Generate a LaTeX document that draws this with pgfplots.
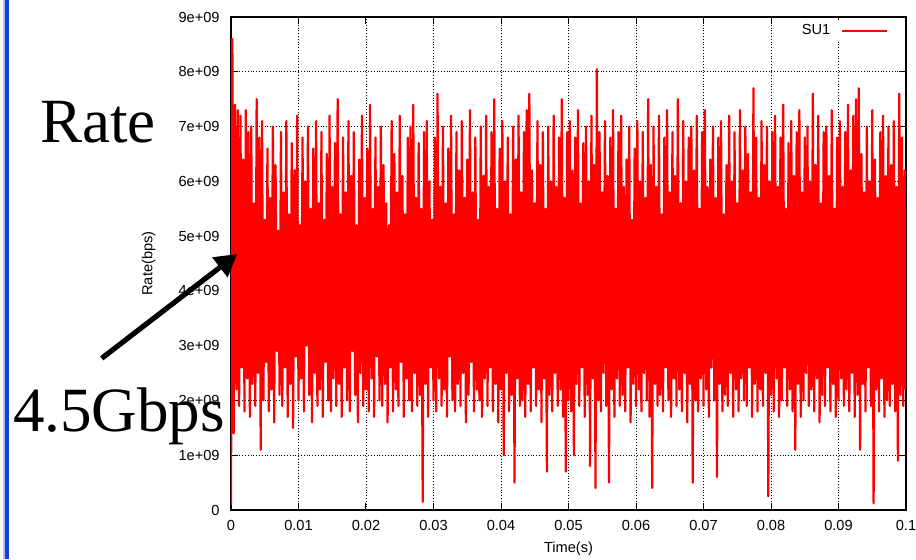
\documentclass[border=0pt]{standalone}
\usepackage{fontspec}
\setmainfont{Liberation Serif}
\newfontfamily\helv{Liberation Sans}
\usepackage{pgfplots}
\pgfplotsset{compat=1.18}
\usetikzlibrary{arrows.meta}
\definecolor{slideblue}{RGB}{16,64,224}
\definecolor{paleblue}{RGB}{170,190,240}
\begin{document}
\begin{tikzpicture}
\path[use as bounding box] (-115.5pt,-24.5pt) rectangle (342.5pt,255pt);
\fill[paleblue] (-114pt,-24.5pt) rectangle (-113pt,255pt);
\fill[slideblue] (-113pt,-24.5pt) rectangle (-111pt,255pt);
\begin{axis}[
  at={(0,0)}, anchor=south west,
  scale only axis, width=337.5pt, height=246.5pt,
  xmin=0, xmax=1000, ymin=0, ymax=9,
  xtick={0,100,...,1000},
  xticklabels={0,0.01,0.02,0.03,0.04,0.05,0.06,0.07,0.08,0.09,0.1},
  ytick={0,1,...,9},
  yticklabels={0,1e+09,2e+09,3e+09,4e+09,5e+09,6e+09,7e+09,8e+09,9e+09},
  tick align=inside, tick pos=both,
  major tick length=3.5pt,
  tick style={black, line width=0.5pt},
  axis line style={black, line width=0.7pt},
  grid=major, major grid style={black, densely dotted, line width=0.4pt},
  tick label style={font=\helv\fontsize{7.3}{8}\selectfont, inner sep=0pt},
  xticklabel shift=4.75pt, yticklabel shift=5.5pt,
  label style={font=\helv\fontsize{7.3}{8}\selectfont, inner sep=0pt},
  xlabel={Time(s)}, ylabel={Rate(bps)},
  xlabel style={at={(axis description cs:0.5,-0.0872)}, anchor=base},
  ylabel style={at={(axis description cs:-0.1222,0.5)}, anchor=center},
  legend plot pos=right,
  legend style={draw=none, fill=white, inner xsep=1pt, inner ysep=2pt, column sep=5.5pt,
    at={(axis description cs:0.976,0.9716)}, anchor=east,
    font=\helv\fontsize{7.3}{8}\selectfont, nodes={inner sep=0pt}},
  legend image code/.code={\draw[draw=red, color=red, line width=0.6pt] (0pt,0pt) -- (22.5pt,0pt);},
]
\addplot[color=red, line width=1.1pt, line join=round] coordinates {
(0,0.1)(2,8.6)(4,1.4)(6,7.4)(8,2.2)(10,7.3)(12,1.9)(14,7.2)(16,2.6)(18,6.4)
(20,1.8)(22,7.3)(24,2.4)(26,6.9)(28,1.7)(30,7.0)(32,2.3)(34,5.6)(36,1.9)(38,7.5)
(40,2.5)(42,6.8)(44,1.1)(46,7.1)(48,2.0)(50,5.3)(52,2.7)(54,6.6)(56,1.8)(58,5.7)
(60,2.2)(62,7.0)(64,1.6)(66,6.3)(68,2.9)(70,5.1)(72,2.1)(74,6.9)(76,1.9)(78,5.8)
(80,2.6)(82,7.1)(84,1.7)(86,5.4)(88,2.3)(90,6.7)(92,1.5)(94,6.2)(96,2.8)(98,7.2)
(100,2.0)(102,5.2)(104,2.4)(106,6.8)(108,1.8)(110,6.0)(112,3.0)(114,7.0)(116,2.1)(118,5.5)
(120,1.6)(122,6.6)(124,2.5)(126,7.1)(128,1.9)(130,5.6)(132,2.2)(134,6.9)(136,1.7)(138,5.3)
(140,2.7)(142,6.5)(144,2.0)(146,7.2)(148,1.8)(150,5.9)(152,2.4)(154,6.7)(156,1.9)(158,7.5)
(160,2.3)(162,5.4)(164,1.7)(166,6.8)(168,2.6)(170,5.8)(172,2.0)(174,7.1)(176,1.8)(178,6.1)
(180,2.9)(182,6.9)(184,2.1)(186,5.2)(188,1.6)(190,6.4)(192,2.5)(194,7.2)(196,1.9)(198,5.7)
(200,2.2)(202,6.6)(204,1.8)(206,7.4)(208,2.4)(210,5.5)(212,1.7)(214,6.8)(216,2.8)(218,5.9)
(220,2.0)(222,7.0)(224,1.9)(226,6.3)(228,2.3)(230,5.6)(232,1.6)(234,5.2)(236,2.6)(238,7.1)
(240,1.8)(242,6.5)(244,2.2)(246,5.8)(248,1.9)(250,7.2)(252,2.7)(254,6.1)(256,1.7)(258,5.4)
(260,2.4)(262,6.8)(264,2.0)(266,7.0)(268,1.8)(270,7.4)(272,2.5)(274,5.7)(276,1.9)(278,6.7)
(280,2.1)(282,5.5)(284,0.15)(286,6.9)(288,2.3)(290,7.1)(292,1.7)(294,6.0)(296,2.6)(298,5.3)
(300,2.0)(302,6.8)(304,1.8)(306,7.6)(308,2.4)(310,5.9)(312,1.9)(314,7.0)(316,2.2)(318,5.6)
(320,1.7)(322,6.6)(324,2.8)(326,7.2)(328,2.0)(330,5.4)(332,1.8)(334,6.9)(336,2.3)(338,6.2)
(340,1.9)(342,7.1)(344,2.5)(346,5.7)(348,1.6)(350,6.4)(352,2.1)(354,7.3)(356,2.7)(358,5.8)
(360,1.8)(362,6.8)(364,2.2)(366,5.3)(368,2.0)(370,7.0)(372,1.7)(374,6.1)(376,2.4)(378,7.2)
(380,1.9)(382,5.9)(384,2.6)(386,6.9)(388,1.8)(390,7.5)(392,2.3)(394,5.5)(396,1.6)(398,6.6)
(400,2.2)(402,7.1)(404,1.0)(406,6.0)(408,2.5)(410,6.8)(412,1.8)(414,5.4)(416,2.1)(418,7.0)
(420,0.5)(422,6.4)(424,2.4)(426,7.2)(428,1.9)(430,5.8)(432,2.0)(434,6.9)(436,1.7)(438,7.3)
(440,2.3)(442,7.6)(444,1.8)(446,6.2)(448,2.6)(450,5.6)(452,1.9)(454,7.1)(456,2.2)(458,6.3)
(460,1.6)(462,6.9)(464,2.4)(466,5.5)(468,0.7)(470,7.0)(472,2.1)(474,6.0)(476,1.8)(478,7.2)
(480,2.5)(482,5.9)(484,1.9)(486,6.8)(488,2.2)(490,7.5)(492,1.7)(494,5.7)(496,0.7)(498,6.9)
(500,2.0)(502,7.1)(504,1.8)(506,6.2)(508,1.0)(510,6.8)(512,2.3)(514,7.3)(516,1.9)(518,5.6)
(520,2.6)(522,6.7)(524,1.7)(526,7.0)(528,2.1)(530,6.0)(532,0.8)(534,7.2)(536,2.4)(538,6.3)
(540,0.4)(542,8.05)(544,2.0)(546,6.9)(548,1.8)(550,5.8)(552,2.5)(554,7.1)(556,1.9)(558,6.1)
(560,0.5)(562,6.8)(564,2.2)(566,7.3)(568,1.7)(570,5.5)(572,2.4)(574,6.9)(576,1.9)(578,7.2)
(580,2.1)(582,5.9)(584,1.8)(586,6.4)(588,2.6)(590,7.0)(592,1.6)(594,5.3)(596,2.3)(598,6.6)
(600,1.9)(602,7.1)(604,2.2)(606,6.0)(608,1.8)(610,6.9)(612,2.5)(614,5.7)(616,2.0)(618,7.5)
(620,1.7)(622,6.3)(624,0.4)(626,7.0)(628,2.3)(630,5.9)(632,1.9)(634,7.2)(636,2.1)(638,5.4)
(640,1.8)(642,6.8)(644,2.6)(646,7.3)(648,2.0)(650,5.8)(652,1.7)(654,6.9)(656,2.4)(658,6.1)
(660,1.9)(662,7.5)(664,2.2)(666,5.6)(668,1.8)(670,7.1)(672,2.5)(674,6.0)(676,1.6)(678,6.8)
(680,2.3)(682,7.0)(684,0.5)(686,6.2)(688,2.0)(690,7.2)(692,1.8)(694,5.5)(696,2.4)(698,6.9)
(700,1.9)(702,7.3)(704,2.2)(706,5.9)(708,1.7)(710,6.4)(712,2.6)(714,7.0)(716,2.0)(718,5.7)
(720,0.6)(722,6.8)(724,2.3)(726,7.1)(728,1.8)(730,5.4)(732,2.1)(734,6.3)(736,1.9)(738,7.2)
(740,2.5)(742,6.0)(744,1.7)(746,6.9)(748,2.2)(750,5.6)(752,1.8)(754,7.3)(756,2.4)(758,6.2)
(760,2.0)(762,7.0)(764,1.9)(766,6.5)(768,2.6)(770,5.8)(772,1.7)(774,7.7)(776,2.3)(778,6.8)
(780,1.8)(782,5.7)(784,2.2)(786,7.1)(788,1.9)(790,6.3)(792,2.5)(794,7.0)(796,0.25)(798,6.0)
(800,2.1)(802,6.9)(804,1.8)(806,7.2)(808,2.4)(810,5.9)(812,1.7)(814,6.8)(816,2.0)(818,7.4)
(820,2.6)(822,5.5)(824,1.9)(826,6.7)(828,2.2)(830,7.1)(832,1.8)(834,6.1)(836,1.1)(838,6.9)
(840,2.3)(842,7.3)(844,1.7)(846,5.8)(848,2.0)(850,6.8)(852,2.5)(854,7.0)(856,1.9)(858,6.0)
(860,2.2)(862,7.6)(864,1.8)(866,6.3)(868,2.4)(870,7.2)(872,1.6)(874,5.6)(876,2.1)(878,6.9)
(880,1.9)(882,7.0)(884,2.6)(886,6.1)(888,1.8)(890,7.3)(892,2.3)(894,5.5)(896,1.7)(898,6.8)
(900,2.0)(902,7.1)(904,2.4)(906,5.9)(908,1.9)(910,6.9)(912,2.2)(914,7.4)(916,1.8)(918,6.2)
(920,2.5)(922,7.2)(924,1.7)(926,7.5)(928,2.1)(930,7.7)(932,1.1)(934,6.5)(936,2.3)(938,5.8)
(940,1.8)(942,7.0)(944,2.6)(946,6.0)(948,1.9)(950,7.3)(952,0.12)(954,6.4)(956,2.2)(958,5.7)
(960,1.8)(962,6.9)(964,2.4)(966,7.2)(968,1.7)(970,6.1)(972,2.0)(974,7.0)(976,1.9)(978,6.3)
(980,2.3)(982,7.1)(984,1.8)(986,5.9)(988,0.9)(990,7.6)(992,2.1)(994,6.8)(996,1.9)(998,6.2)
(1000,2.2)
};
\addlegendentry{SU1}
\end{axis}
\draw[line width=2.6pt, -{Triangle[length=11pt,width=12pt]}] (-64.65pt,75.85pt) -- (3.15pt,128pt);
\node[anchor=base west, inner sep=0pt, font=\fontsize{31.5}{33}\selectfont] at (-95.5pt,184pt) {Rate};
\node[anchor=base west, inner sep=0pt, font=\fontsize{31.5}{33}\selectfont] at (-109.15pt,39.15pt) {4.5Gbps};
\end{tikzpicture}
\end{document}
